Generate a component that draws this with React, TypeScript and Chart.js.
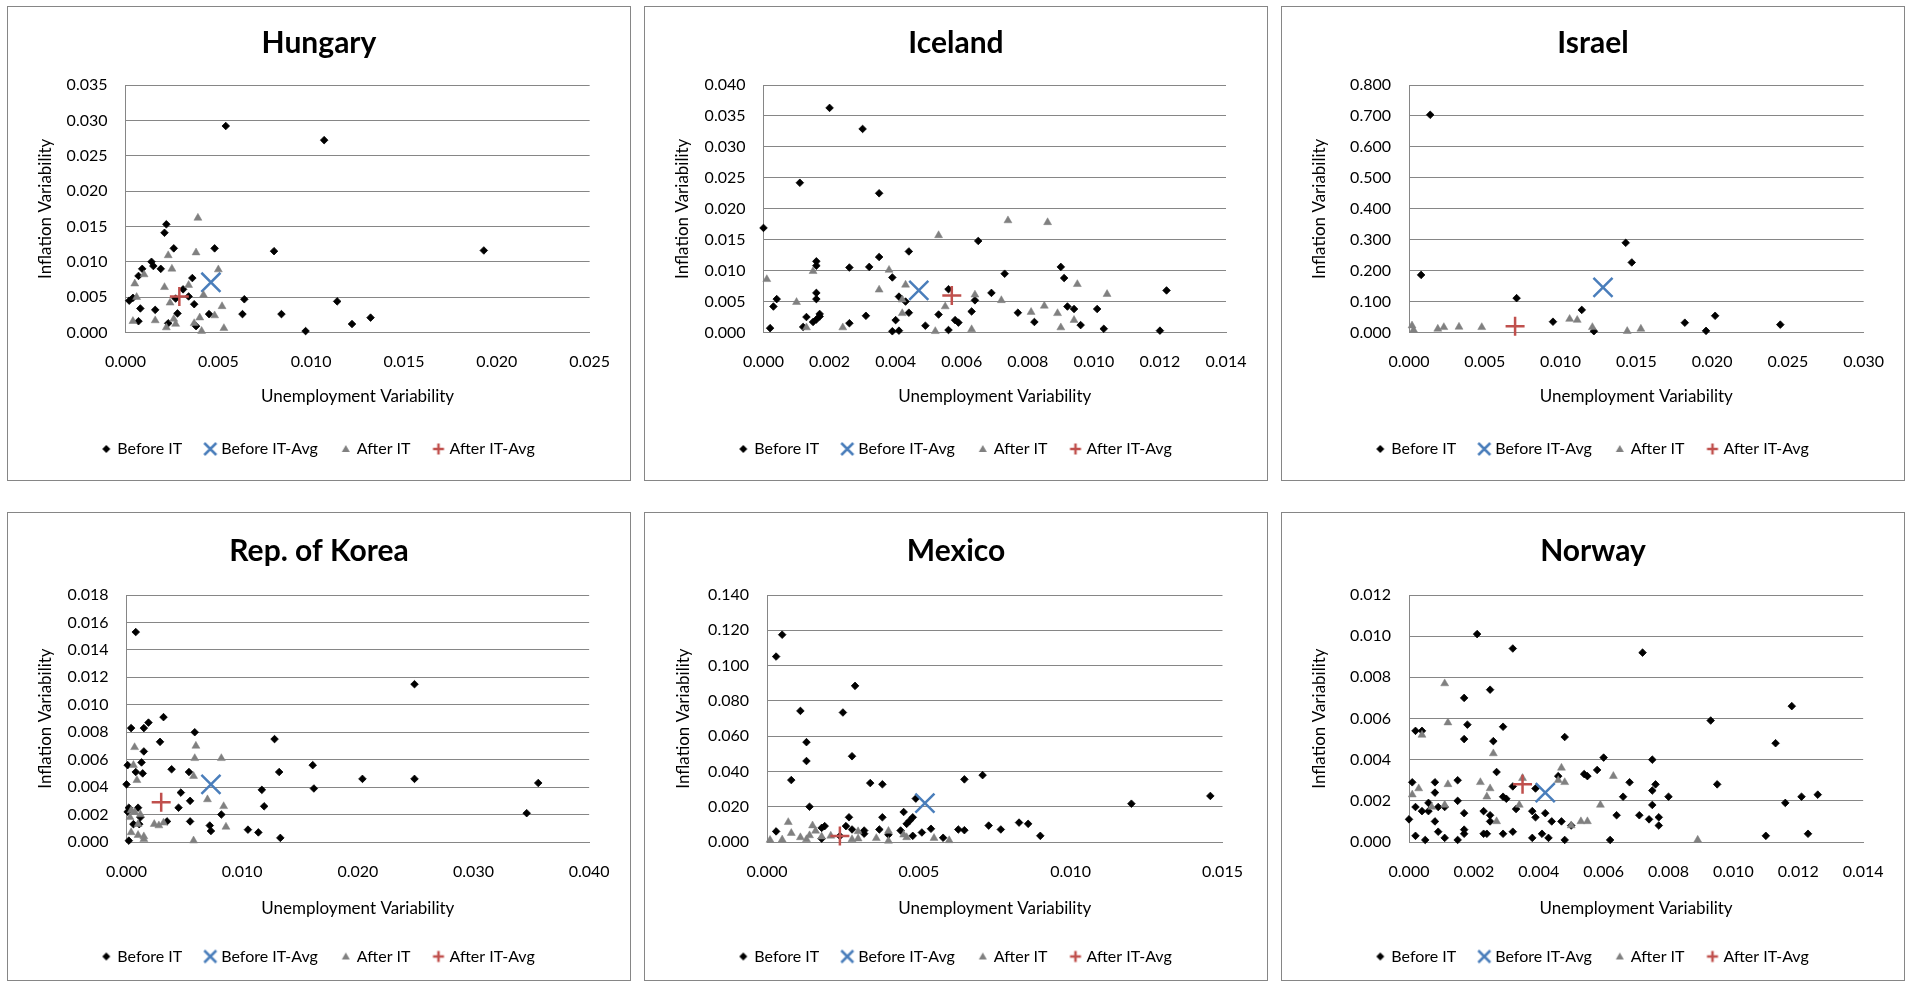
import React, { useEffect, useRef } from 'react';
import { Chart, registerables } from 'chart.js';

Chart.register(...registerables);

type Pt = [number, number];

// ---------- DATA ----------
const seriesNames = ['Before IT', 'Before IT-Avg', 'After IT', 'After IT-Avg'];

const hungaryBefore: Pt[] = [[0.0054,0.0292],[0.0107,0.0272],[0.0193,0.0116],[0.0080,0.0115],[0.0048,0.0119],[0.0022,0.0153],[0.0021,0.0141],[0.0026,0.0119],[0.0014,0.0100],[0.0015,0.0094],[0.0019,0.0090],[0.0009,0.0090],[0.0007,0.0080],[0.0036,0.0077],[0.0064,0.0047],[0.0031,0.0061],[0.0034,0.0051],[0.0002,0.0045],[0.0004,0.0049],[0.0008,0.0034],[0.0016,0.0032],[0.0037,0.0040],[0.0027,0.0048],[0.0028,0.0027],[0.0045,0.0026],[0.0063,0.0026],[0.0084,0.0026],[0.0114,0.0044],[0.0007,0.0016],[0.0023,0.0013],[0.0038,0.0009],[0.0097,0.0002],[0.0122,0.0012],[0.0132,0.0021]];
const hungaryAfter: Pt[] = [[0.0039,0.0162],[0.0038,0.0113],[0.0023,0.0109],[0.0025,0.0090],[0.0050,0.0089],[0.0010,0.0082],[0.0005,0.0069],[0.0021,0.0064],[0.0034,0.0067],[0.0042,0.0053],[0.0006,0.0050],[0.0024,0.0042],[0.0052,0.0037],[0.0004,0.0016],[0.0016,0.0017],[0.0026,0.0019],[0.0027,0.0012],[0.0022,0.0007],[0.0037,0.0013],[0.0040,0.0021],[0.0048,0.0024],[0.0041,0.0002],[0.0053,0.0006]];
const hungaryBeforeAvg: Pt[] = [[0.0046,0.0071]];
const hungaryAfterAvg: Pt[] = [[0.0029,0.0051]];

const icelandBefore: Pt[] = [[0.0000,0.0169],[0.0020,0.0363],[0.0030,0.0329],[0.0011,0.0242],[0.0035,0.0225],[0.0065,0.0148],[0.0044,0.0131],[0.0035,0.0122],[0.0016,0.0115],[0.0016,0.0108],[0.0026,0.0105],[0.0032,0.0106],[0.0090,0.0106],[0.0073,0.0095],[0.0039,0.0089],[0.0091,0.0088],[0.0122,0.0068],[0.0056,0.0070],[0.0069,0.0064],[0.0016,0.0064],[0.0016,0.0054],[0.0004,0.0054],[0.0003,0.0042],[0.0041,0.0058],[0.0043,0.0050],[0.0064,0.0052],[0.0044,0.0032],[0.0031,0.0027],[0.0013,0.0025],[0.0017,0.0030],[0.0017,0.0026],[0.0016,0.0021],[0.0015,0.0017],[0.0053,0.0029],[0.0040,0.0020],[0.0026,0.0015],[0.0049,0.0011],[0.0063,0.0034],[0.0058,0.0020],[0.0059,0.0016],[0.0077,0.0032],[0.0082,0.0017],[0.0092,0.0042],[0.0094,0.0038],[0.0096,0.0012],[0.0101,0.0038],[0.0103,0.0006],[0.0120,0.0003],[0.0002,0.0007],[0.0012,0.0009],[0.0039,0.0002],[0.0041,0.0003],[0.0056,0.0004]];
const icelandAfter: Pt[] = [[0.0001,0.0086],[0.0010,0.0049],[0.0013,0.0008],[0.0015,0.0099],[0.0024,0.0008],[0.0035,0.0069],[0.0038,0.0101],[0.0043,0.0077],[0.0042,0.0053],[0.0042,0.0031],[0.0053,0.0157],[0.0052,0.0002],[0.0055,0.0042],[0.0064,0.0061],[0.0063,0.0005],[0.0072,0.0052],[0.0074,0.0181],[0.0081,0.0033],[0.0085,0.0043],[0.0086,0.0178],[0.0089,0.0031],[0.0090,0.0008],[0.0094,0.0020],[0.0095,0.0078],[0.0104,0.0062]];
const icelandBeforeAvg: Pt[] = [[0.0047,0.0068]];
const icelandAfterAvg: Pt[] = [[0.0057,0.0060]];

const israelBefore: Pt[] = [[0.0014,0.7037],[0.0008,0.1862],[0.0071,0.1111],[0.0095,0.0349],[0.0114,0.0730],[0.0122,0.0042],[0.0143,0.2899],[0.0147,0.2265],[0.0182,0.0317],[0.0196,0.0053],[0.0202,0.0540],[0.0245,0.0254]];
const israelAfter: Pt[] = [[0.0002,0.0222],[0.0003,0.0085],[0.0019,0.0116],[0.0023,0.0169],[0.0033,0.0180],[0.0048,0.0169],[0.0106,0.0434],[0.0111,0.0402],[0.0121,0.0169],[0.0144,0.0042],[0.0153,0.0116]];
const israelBeforeAvg: Pt[] = [[0.0128,0.1460]];
const israelAfterAvg: Pt[] = [[0.0070,0.0201]];

const koreaBefore: Pt[] = [[0.0008,0.0153],[0.0249,0.0115],[0.0032,0.0091],[0.0019,0.0087],[0.0004,0.0083],[0.0015,0.0083],[0.0059,0.0080],[0.0128,0.0075],[0.0029,0.0073],[0.0015,0.0066],[0.0001,0.0056],[0.0013,0.0058],[0.0008,0.0051],[0.0014,0.0050],[0.0039,0.0053],[0.0054,0.0051],[0.0161,0.0056],[0.0132,0.0051],[0.0204,0.0046],[0.0249,0.0046],[0.0356,0.0043],[0.0000,0.0042],[0.0117,0.0038],[0.0162,0.0039],[0.0047,0.0036],[0.0055,0.0030],[0.0045,0.0025],[0.0119,0.0026],[0.0346,0.0021],[0.0010,0.0025],[0.0002,0.0025],[0.0001,0.0022],[0.0082,0.0020],[0.0035,0.0015],[0.0055,0.0015],[0.0072,0.0012],[0.0073,0.0008],[0.0105,0.0009],[0.0114,0.0007],[0.0133,0.0003],[0.0002,0.0001],[0.0006,0.0013],[0.0011,0.0013],[0.0012,0.0018]];
const koreaAfter: Pt[] = [[0.0007,0.0069],[0.0060,0.0070],[0.0059,0.0061],[0.0082,0.0061],[0.0006,0.0056],[0.0009,0.0045],[0.0058,0.0048],[0.0070,0.0031],[0.0084,0.0026],[0.0086,0.0011],[0.0004,0.0023],[0.0007,0.0022],[0.0012,0.0020],[0.0003,0.0018],[0.0010,0.0013],[0.0024,0.0013],[0.0028,0.0012],[0.0032,0.0014],[0.0004,0.0007],[0.0010,0.0005],[0.0015,0.0004],[0.0015,0.0002],[0.0058,0.0001]];
const koreaBeforeAvg: Pt[] = [[0.0073,0.0042]];
const koreaAfterAvg: Pt[] = [[0.0030,0.0029]];

const mexicoBefore: Pt[] = [[0.0005,0.1175],[0.0003,0.1051],[0.0029,0.0885],[0.0011,0.0743],[0.0025,0.0734],[0.0013,0.0566],[0.0013,0.0459],[0.0028,0.0486],[0.0008,0.0351],[0.0034,0.0334],[0.0038,0.0327],[0.0065,0.0355],[0.0071,0.0379],[0.0014,0.0200],[0.0049,0.0246],[0.0120,0.0217],[0.0146,0.0261],[0.0045,0.0170],[0.0027,0.0140],[0.0038,0.0140],[0.0048,0.0140],[0.0047,0.0121],[0.0046,0.0103],[0.0019,0.0090],[0.0018,0.0080],[0.0026,0.0090],[0.0028,0.0071],[0.0037,0.0071],[0.0032,0.0065],[0.0032,0.0047],[0.0003,0.0060],[0.0073,0.0093],[0.0083,0.0110],[0.0086,0.0103],[0.0077,0.0071],[0.0063,0.0071],[0.0065,0.0067],[0.0054,0.0075],[0.0051,0.0054],[0.0048,0.0035],[0.0044,0.0065],[0.0058,0.0024],[0.0090,0.0035],[0.0018,0.0019],[0.0024,0.0034],[0.0040,0.0041]];
const mexicoAfter: Pt[] = [[0.0007,0.0112],[0.0008,0.0050],[0.0015,0.0093],[0.0016,0.0063],[0.0001,0.0011],[0.0005,0.0013],[0.0011,0.0026],[0.0013,0.0015],[0.0014,0.0037],[0.0018,0.0030],[0.0021,0.0035],[0.0028,0.0015],[0.0030,0.0060],[0.0030,0.0019],[0.0036,0.0021],[0.0040,0.0062],[0.0040,0.0006],[0.0045,0.0041],[0.0046,0.0026],[0.0055,0.0022],[0.0060,0.0009]];
const mexicoBeforeAvg: Pt[] = [[0.0052,0.0220]];
const mexicoAfterAvg: Pt[] = [[0.0024,0.0034]];

const norwayBefore: Pt[] = [[0.0021,0.0101],[0.0032,0.0094],[0.0072,0.0092],[0.0025,0.0074],[0.0017,0.0070],[0.0118,0.0066],[0.0093,0.0059],[0.0018,0.0057],[0.0029,0.0056],[0.0002,0.0054],[0.0004,0.0054],[0.0048,0.0051],[0.0017,0.0050],[0.0026,0.0049],[0.0113,0.0048],[0.0060,0.0041],[0.0075,0.0040],[0.0058,0.0035],[0.0054,0.0033],[0.0055,0.0032],[0.0027,0.0034],[0.0046,0.0032],[0.0001,0.0029],[0.0008,0.0029],[0.0015,0.0030],[0.0068,0.0029],[0.0076,0.0028],[0.0095,0.0028],[0.0032,0.0027],[0.0039,0.0026],[0.0075,0.0025],[0.0008,0.0024],[0.0029,0.0022],[0.0030,0.0021],[0.0066,0.0022],[0.0080,0.0022],[0.0121,0.0022],[0.0126,0.0023],[0.0116,0.0019],[0.0075,0.0018],[0.0015,0.0020],[0.0002,0.0017],[0.0006,0.0019],[0.0009,0.0017],[0.0011,0.0017],[0.0033,0.0016],[0.0004,0.0015],[0.0006,0.0015],[0.0023,0.0015],[0.0017,0.0014],[0.0038,0.0015],[0.0042,0.0014],[0.0025,0.0013],[0.0039,0.0012],[0.0064,0.0013],[0.0071,0.0013],[0.0077,0.0012],[0.0000,0.0011],[0.0008,0.0010],[0.0025,0.0010],[0.0044,0.0010],[0.0047,0.0010],[0.0050,0.0008],[0.0074,0.0011],[0.0077,0.0008],[0.0009,0.0005],[0.0017,0.0006],[0.0023,0.0004],[0.0024,0.0004],[0.0029,0.0004],[0.0032,0.0005],[0.0041,0.0004],[0.0017,0.0004],[0.0002,0.0003],[0.0011,0.0002],[0.0005,0.0001],[0.0015,0.0001],[0.0038,0.0002],[0.0043,0.0002],[0.0048,0.0001],[0.0062,0.0001],[0.0110,0.0003],[0.0123,0.0004]];
const norwayAfter: Pt[] = [[0.0011,0.0077],[0.0012,0.0058],[0.0004,0.0052],[0.0026,0.0043],[0.0047,0.0036],[0.0063,0.0032],[0.0035,0.0031],[0.0046,0.0030],[0.0048,0.0029],[0.0022,0.0029],[0.0012,0.0028],[0.0003,0.0026],[0.0025,0.0026],[0.0001,0.0023],[0.0024,0.0022],[0.0007,0.0017],[0.0011,0.0018],[0.0034,0.0018],[0.0059,0.0018],[0.0027,0.0010],[0.0050,0.0008],[0.0053,0.0010],[0.0055,0.0010],[0.0089,0.0001]];
const norwayBeforeAvg: Pt[] = [[0.0042,0.0024]];
const norwayAfterAvg: Pt[] = [[0.0035,0.0028]];

// axis ranges: [max, step]
const hungaryX = [0.025, 0.005]; const hungaryY = [0.035, 0.005];
const icelandX = [0.014, 0.002]; const icelandY = [0.040, 0.005];
const israelX = [0.030, 0.005]; const israelY = [0.800, 0.100];
const koreaX = [0.040, 0.010]; const koreaY = [0.018, 0.002];
const mexicoX = [0.015, 0.005]; const mexicoY = [0.140, 0.020];
const norwayX = [0.014, 0.002]; const norwayY = [0.012, 0.002];

const xTitle = 'Unemployment Variability';
const yTitle = 'Inflation Variability';

// ---------- STYLE / LAYOUT ----------
const FONT = 'Lato, "Open Sans", sans-serif';
const GRID = '#868686';
const TICK_SIZE = 16;
const AXIS_TITLE_SIZE = 17;
const TITLE_SIZE = 30;
const LEGEND_SIZE = 16;
const LEGEND_PAD = 25;
const LEGEND_BOX = 6;

type Layout = {
  box: { left: number; top: number; w: number; h: number };
  plot: { left: number; right: number; top: number; bottom: number };
  titleC: number; tickC: number; xTitleC: number; legendC: number; yTickGap: number; yTitleC: number;
};

const topRow = { titleC: 37, tickC: 356, xTitleC: 391, legendC: 443 };
const botRow = { titleC: 39, tickC: 360, xTitleC: 396.5, legendC: 444.5 };

const layouts: Layout[] = [
  { box: { left: 7, top: 6, w: 624, h: 475 }, plot: { left: 118.5, right: 583, top: 79, bottom: 326.5 }, ...topRow, yTickGap: 18, yTitleC: 39 },
  { box: { left: 644, top: 6, w: 624, h: 475 }, plot: { left: 119.5, right: 582, top: 79, bottom: 326.5 }, ...topRow, yTickGap: 18, yTitleC: 39 },
  { box: { left: 1281, top: 6, w: 624, h: 475 }, plot: { left: 128, right: 592, top: 79, bottom: 326.5 }, ...topRow, yTickGap: 18, yTitleC: 39 },
  { box: { left: 7, top: 512, w: 624, h: 469 }, plot: { left: 119.5, right: 583, top: 83, bottom: 330 }, ...botRow, yTickGap: 18, yTitleC: 39 },
  { box: { left: 644, top: 512, w: 624, h: 469 }, plot: { left: 123, right: 578.5, top: 83, bottom: 330 }, ...botRow, yTickGap: 18, yTitleC: 40 },
  { box: { left: 1281, top: 512, w: 624, h: 469 }, plot: { left: 128, right: 592, top: 83, bottom: 330 }, ...botRow, yTickGap: 18, yTitleC: 39 },
];

type PanelDef = { title: string; before: Pt[]; beforeAvg: Pt[]; after: Pt[]; afterAvg: Pt[]; x: number[]; y: number[] };

const panels: PanelDef[] = [
  { title: 'Hungary', before: hungaryBefore, beforeAvg: hungaryBeforeAvg, after: hungaryAfter, afterAvg: hungaryAfterAvg, x: hungaryX, y: hungaryY },
  { title: 'Iceland', before: icelandBefore, beforeAvg: icelandBeforeAvg, after: icelandAfter, afterAvg: icelandAfterAvg, x: icelandX, y: icelandY },
  { title: 'Israel', before: israelBefore, beforeAvg: israelBeforeAvg, after: israelAfter, afterAvg: israelAfterAvg, x: israelX, y: israelY },
  { title: 'Rep. of Korea', before: koreaBefore, beforeAvg: koreaBeforeAvg, after: koreaAfter, afterAvg: koreaAfterAvg, x: koreaX, y: koreaY },
  { title: 'Mexico', before: mexicoBefore, beforeAvg: mexicoBeforeAvg, after: mexicoAfter, afterAvg: mexicoAfterAvg, x: mexicoX, y: mexicoY },
  { title: 'Norway', before: norwayBefore, beforeAvg: norwayBeforeAvg, after: norwayAfter, afterAvg: norwayAfterAvg, x: norwayX, y: norwayY },
];

const toXY = (pts: Pt[]) => pts.map(([x, y]) => ({ x, y }));

function glyph(kind: string): HTMLCanvasElement {
  const c = document.createElement('canvas');
  const s = 16;
  c.width = s; c.height = s;
  const g = c.getContext('2d')!;
  const m = s / 2;
  if (kind === 'diamond') {
    g.fillStyle = '#000';
    g.beginPath(); g.moveTo(m, m - 4); g.lineTo(m + 4, m); g.lineTo(m, m + 4); g.lineTo(m - 4, m); g.closePath(); g.fill();
  } else if (kind === 'x') {
    g.strokeStyle = '#4A7EBB'; g.lineWidth = 2.5;
    g.beginPath(); g.moveTo(m - 6, m - 6); g.lineTo(m + 6, m + 6); g.moveTo(m + 6, m - 6); g.lineTo(m - 6, m + 6); g.stroke();
  } else if (kind === 'tri') {
    g.fillStyle = '#808080';
    g.beginPath(); g.moveTo(m, m - 4); g.lineTo(m + 4, m + 3); g.lineTo(m - 4, m + 3); g.closePath(); g.fill();
  } else {
    g.strokeStyle = '#C0504D'; g.lineWidth = 2.5;
    g.beginPath(); g.moveTo(m - 5.5, m); g.lineTo(m + 5.5, m); g.moveTo(m, m - 5.5); g.lineTo(m, m + 5.5); g.stroke();
  }
  return c;
}

function Panel({ p, l }: { p: PanelDef; l: Layout }) {
  const ref = useRef<HTMLCanvasElement>(null);
  useEffect(() => {
    const cw = l.box.w - 2;
    const chh = l.box.h - 2;
    const plotLeft = l.plot.left - 1;
    const plotRight = l.plot.right - 1;
    const plotTop = l.plot.top - 1;
    const plotBottom = l.plot.bottom - 1;
    const side = cw - plotRight;

    const titleLH = TITLE_SIZE * 1.2;
    const titlePadTop = l.titleC - 1 - titleLH / 2;
    const titlePadBottom = plotTop - titleLH - titlePadTop;

    const legendH = LEGEND_SIZE + LEGEND_PAD + 10;
    const legendCenterOff = LEGEND_PAD + LEGEND_SIZE / 2;
    const legendTop = l.legendC - 1 - legendCenterOff;
    const padBottom = chh - legendTop - legendH;
    const xScaleH = legendTop - plotBottom;
    const tickLH = TICK_SIZE * 1.2;
    const xTickPad = l.tickC - 1 - plotBottom - tickLH / 2;
    const axLH = AXIS_TITLE_SIZE * 1.2;
    const xTitlePadBottom = legendTop - (l.xTitleC - 1) - axLH / 2;

    const yScaleW = plotLeft - side;
    const yTitlePadTop = (l.yTitleC - 1) - side - axLH / 2;

    const glyphs = [glyph('diamond'), glyph('x'), glyph('tri'), glyph('plus')];

    const chart = new Chart(ref.current!, {
      type: 'scatter',
      data: {
        datasets: [
          { label: seriesNames[0], data: toXY(p.before), pointStyle: 'rectRot', radius: 3.8, backgroundColor: '#000', borderColor: '#000', borderWidth: 0.8, order: 4, clip: false } as any,
          { label: seriesNames[1], data: toXY(p.beforeAvg), pointStyle: 'crossRot', radius: 13.5, backgroundColor: '#4A7EBB', borderColor: '#4A7EBB', borderWidth: 2.5, order: 3, clip: false },
          { label: seriesNames[2], data: toXY(p.after), pointStyle: 'triangle', radius: 4.6, backgroundColor: '#808080', borderColor: '#808080', borderWidth: 0.5, order: 2, clip: false },
          { label: seriesNames[3], data: toXY(p.afterAvg), pointStyle: 'cross', radius: 9.5, backgroundColor: '#C0504D', borderColor: '#C0504D', borderWidth: 2.5, order: 1, clip: false },
        ],
      },
      options: {
        animation: false,
        responsive: false,
        events: [],
        layout: { padding: { left: side, right: side, top: 0, bottom: padBottom } },
        plugins: {
          title: {
            display: true, text: p.title, color: '#000',
            font: { family: FONT, size: TITLE_SIZE, weight: 'bold', lineHeight: 1.2 },
            padding: { top: titlePadTop, bottom: titlePadBottom },
          },
          legend: {
            display: true, position: 'bottom',
            labels: {
              usePointStyle: true, boxWidth: LEGEND_BOX, boxHeight: 12, padding: LEGEND_PAD, color: '#000',
              font: { family: FONT, size: LEGEND_SIZE, lineHeight: 1.2 },
              generateLabels: () => seriesNames.map((name, i) => ({
                text: name, pointStyle: glyphs[i] as any, datasetIndex: i, hidden: false,
                fillStyle: 'transparent', strokeStyle: 'transparent', lineWidth: 0, fontColor: '#000',
              })),
            },
          },
          tooltip: { enabled: false },
        },
        scales: {
          x: {
            type: 'linear', min: 0, max: p.x[0],
            grid: { display: false, drawTicks: false },
            border: { display: true, color: GRID, width: 1 },
            ticks: {
              stepSize: p.x[1], padding: xTickPad, color: '#000',
              font: { family: FONT, size: TICK_SIZE, lineHeight: 1.2 },
              callback: (v: any) => Number(v).toFixed(3),
            },
            title: {
              display: true, text: xTitle, color: '#000',
              font: { family: FONT, size: AXIS_TITLE_SIZE, lineHeight: 1.2 },
              padding: { top: 0, bottom: xTitlePadBottom },
            },
            afterFit: (s: any) => { s.height = xScaleH; },
          },
          y: {
            type: 'linear', min: 0, max: p.y[0],
            grid: { display: true, drawTicks: false, color: GRID, lineWidth: 1 },
            border: { display: true, color: GRID, width: 1 },
            ticks: {
              stepSize: p.y[1], padding: l.yTickGap, color: '#000',
              font: { family: FONT, size: TICK_SIZE, lineHeight: 1.2 },
              callback: (v: any) => Number(v).toFixed(3),
            },
            title: {
              display: true, text: yTitle, color: '#000',
              font: { family: FONT, size: AXIS_TITLE_SIZE, lineHeight: 1.2 },
              padding: { top: yTitlePadTop, bottom: 0 },
            },
            afterFit: (s: any) => { s.width = yScaleW; },
          },
        },
      } as any,
    });
    return () => chart.destroy();
  }, [p, l]);

  return (
    <div style={{ position: 'absolute', left: l.box.left, top: l.box.top, width: l.box.w, height: l.box.h, border: '1px solid #868686', boxSizing: 'border-box', background: '#fff' }}>
      <canvas ref={ref} width={l.box.w - 2} height={l.box.h - 2} style={{ display: 'block', width: l.box.w - 2, height: l.box.h - 2 }} />
    </div>
  );
}

export default function App() {
  return (
    <div style={{ position: 'absolute', left: 0, top: 0, width: 1910, height: 985, background: '#fff' }}>
      {panels.map((p, i) => <Panel key={p.title} p={p} l={layouts[i]} />)}
    </div>
  );
}
